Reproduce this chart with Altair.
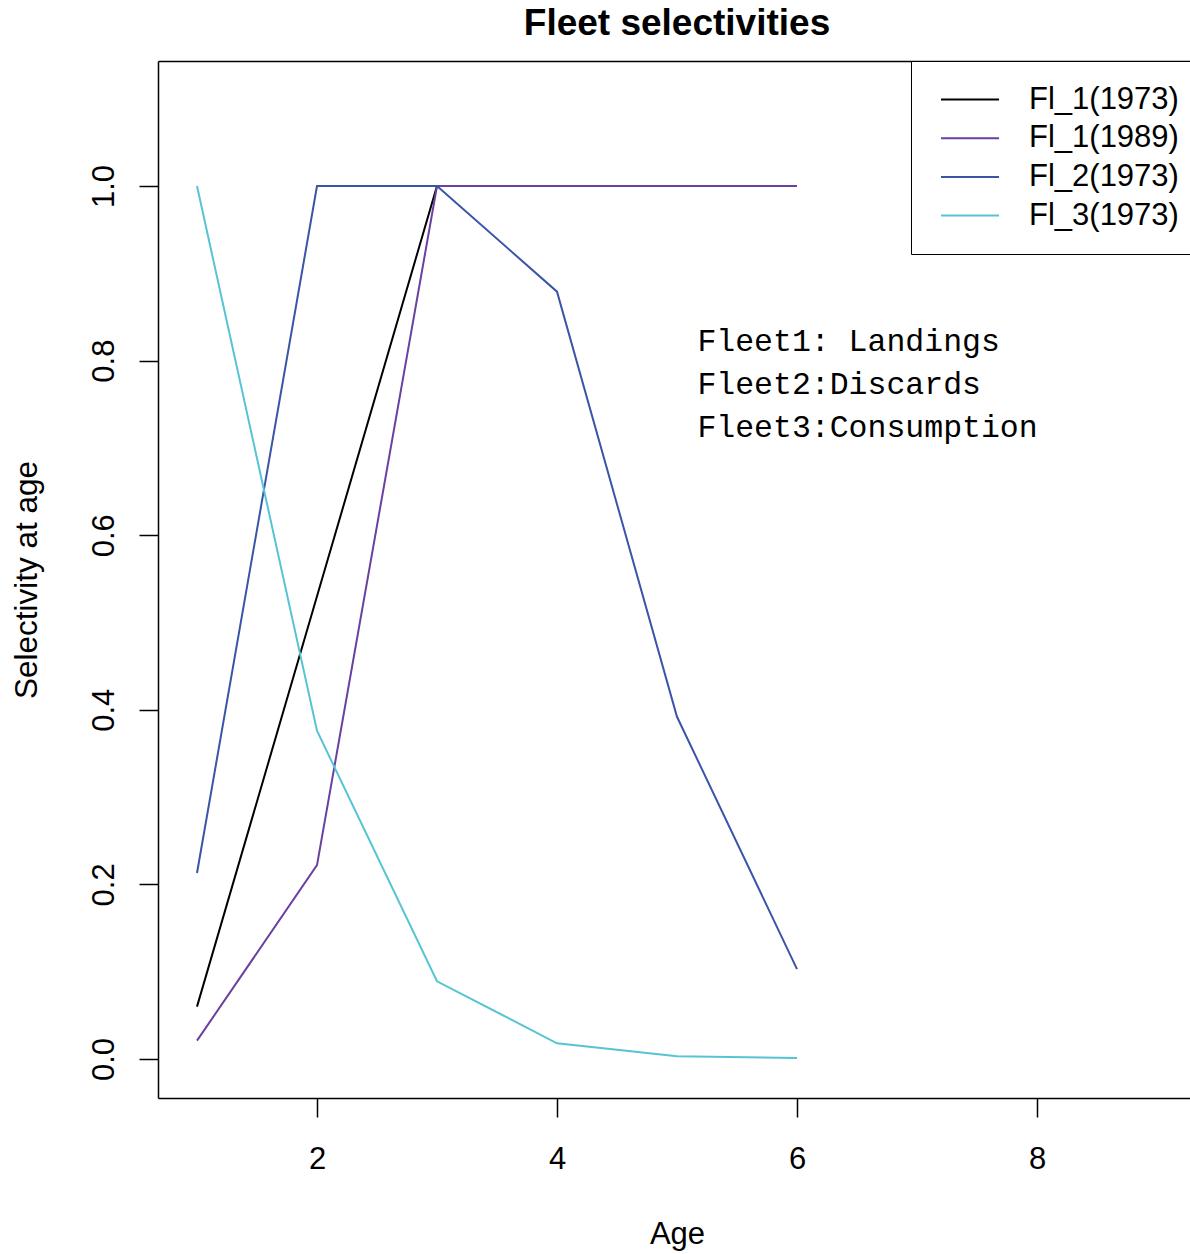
import altair as alt
import pandas as pd

# ---- data ----
ages = [1, 2, 3, 4, 5, 6]
series_names = ["Fl_1(1973)", "Fl_1(1989)", "Fl_2(1973)", "Fl_3(1973)"]
fl1_1973 = [0.06, 0.53, 1.0, 1.0, 1.0, 1.0]
fl1_1989 = [0.021, 0.222, 1.0, 1.0, 1.0, 1.0]
fl2_1973 = [0.213, 1.0, 1.0, 0.879, 0.392, 0.103]
fl3_1973 = [1.0, 0.376, 0.089, 0.018, 0.003, 0.001]
series_colors = ["#000000", "#6A40A0", "#3A54A8", "#56C4D4"]

note_labels = ["Fleet1: Landings", "Fleet2:Discards", "Fleet3:Consumption"]
note_x = [5.17, 5.17, 5.17]
note_y = [0.811, 0.762, 0.713]

x_ticks = [2, 4, 6, 8]
y_ticks = [0.0, 0.2, 0.4, 0.6, 0.8, 1.0]
x_domain = [0.675, 9.275]
y_domain = [-0.0447, 1.1432]

# ---- tables ----
all_series = [fl1_1973, fl1_1989, fl2_1973, fl3_1973]
rows = []
for si, (name, vals) in enumerate(zip(series_names, all_series)):
    for a, v in zip(ages, vals):
        rows.append({"Age": a, "Selectivity": v, "Fleet": name, "k": si})
df = pd.DataFrame(rows)
notes = pd.DataFrame({"label": note_labels, "x": note_x, "y": note_y})

FONT = "Liberation Sans"
W, H = 1032, 1037

xscale = alt.Scale(domain=x_domain, nice=False, zero=False)
yscale = alt.Scale(domain=y_domain, nice=False, zero=False)

y_axis = alt.Axis(
    title="Selectivity at age", values=y_ticks, format=".1f",
    labelAngle=270, labelAlign="center", labelBaseline="alphabetic",
    labelPadding=26, tickSize=19, labelFontSize=31, labelFlush=False,
    labelOverlap=False, titleFontSize=31.5, titleFontWeight="normal",
    titleAngle=270, titleAlign="center", titleBaseline="alphabetic",
    titleX=-122, titleY=H / 2,
)
x_axis = alt.Axis(
    title="Age", values=x_ticks, format="d", orient="bottom",
    tickSize=19, labelPadding=51, labelBaseline="alphabetic",
    labelFontSize=31, labelFlush=False, labelOverlap=False,
    titleFontSize=31, titleFontWeight="normal", titleAlign="center",
    titleBaseline="alphabetic", titleX=519, titleY=145,
)
top_axis = alt.Axis(orient="top", labels=False, ticks=False, title=None, domain=True)

lines = alt.Chart(df).mark_line(strokeWidth=2).encode(
    x=alt.X("Age:Q", scale=xscale, axis=x_axis),
    y=alt.Y("Selectivity:Q", scale=yscale, axis=y_axis),
    color=alt.Color(
        "Fleet:N",
        scale=alt.Scale(domain=series_names, range=series_colors),
        legend=alt.Legend(
            title=None, orient="none", legendX=753, legendY=0,
            strokeColor="black", fillColor="white", padding=23,
            symbolType="M-0.63,0H3.67", symbolSize=729, symbolStrokeWidth=2,
            labelOffset=64, labelFontSize=31, labelFont=FONT, labelColor="black",
            labelLimit=400, rowPadding=6.7,
        ),
    ),
    order=alt.Order("Age:Q"),
)

text = alt.Chart(notes).mark_text(
    align="left", baseline="alphabetic", font="Liberation Mono",
    fontSize=31.5, color="black",
).encode(
    x=alt.X("x:Q", scale=xscale, axis=top_axis),
    y=alt.Y("y:Q", scale=yscale, axis=y_axis),
    text="label:N",
)

chart = alt.layer(lines, text).resolve_axis(x="independent").properties(
    width=W, height=H,
    title=alt.TitleParams(
        "Fleet selectivities", font=FONT, fontSize=37, fontWeight="bold",
        anchor="middle", frame="group", baseline="alphabetic", offset=-11,
        dx=3, color="black",
    ),
    autosize=alt.AutoSizeParams(type="none"),
    padding={"left": 158, "top": 61, "right": 0, "bottom": 156},
    background="white",
).configure_view(stroke=None).configure_axis(
    grid=False, domainColor="black", domainWidth=1.5, tickColor="black",
    tickWidth=1.5, labelColor="black", titleColor="black",
    labelFont=FONT, titleFont=FONT,
)

chart.save("out.html", embed_options={"renderer": "svg", "actions": False})
